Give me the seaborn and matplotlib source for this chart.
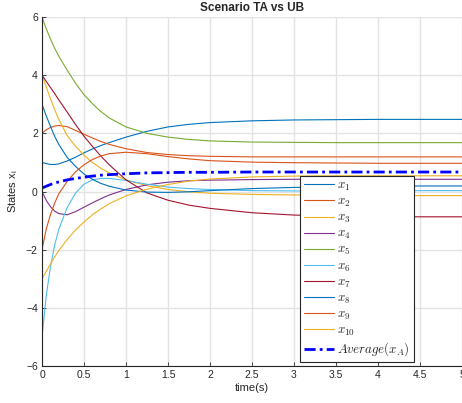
import numpy as np
import pandas as pd
import seaborn as sns
import matplotlib
matplotlib.use("Agg")
import matplotlib.pyplot as plt

# sample times (s) and states
t = [0, 0.05, 0.1, 0.15, 0.2, 0.3, 0.4, 0.5, 0.6, 0.7, 0.8, 1.0,
     1.25, 1.5, 1.75, 2.0, 2.5, 3.0, 3.5, 4.0, 4.5, 5.0]

x1 = [1.0, 0.96, 0.93, 0.93, 0.95, 1.05, 1.18, 1.33, 1.46, 1.58, 1.68, 1.87,
      2.07, 2.22, 2.31, 2.37, 2.43, 2.46, 2.47, 2.48, 2.48, 2.48]
x2 = [2.0, 2.12, 2.2, 2.25, 2.27, 2.23, 2.1, 1.97, 1.84, 1.72, 1.62, 1.47,
      1.34, 1.27, 1.23, 1.21, 1.19, 1.19, 1.19, 1.19, 1.19, 1.19]
x3 = [4.0, 3.6, 3.2, 2.82, 2.48, 1.92, 1.55, 1.25, 1.0, 0.8, 0.64, 0.4,
      0.2, 0.07, -0.01, -0.06, -0.1, -0.12, -0.13, -0.14, -0.14, -0.14]
x4 = [0.0, -0.3, -0.52, -0.67, -0.76, -0.8, -0.69, -0.54, -0.39, -0.25, -0.12, 0.07,
      0.23, 0.32, 0.37, 0.39, 0.41, 0.42, 0.42, 0.42, 0.42, 0.42]
x5 = [6.0, 5.6, 5.25, 4.93, 4.65, 4.17, 3.72, 3.33, 3.02, 2.75, 2.53, 2.22,
      2.0, 1.87, 1.79, 1.74, 1.7, 1.69, 1.68, 1.68, 1.68, 1.68]
x6 = [-5.0, -3.6, -2.6, -1.85, -1.3, -0.55, -0.05, 0.25, 0.4, 0.45, 0.45, 0.38,
      0.25, 0.15, 0.1, 0.07, 0.03, 0.02, 0.02, 0.03, 0.03, 0.03]
x7 = [4.0, 3.79, 3.58, 3.37, 3.15, 2.73, 2.3, 1.9, 1.55, 1.22, 0.92, 0.4,
      -0.05, -0.3, -0.47, -0.58, -0.73, -0.81, -0.85, -0.86, -0.87, -0.87]
x8 = [3.0, 2.6, 2.25, 1.9, 1.62, 1.17, 0.86, 0.6, 0.42, 0.28, 0.18, 0.05,
      -0.02, -0.03, -0.01, 0.03, 0.1, 0.14, 0.16, 0.18, 0.19, 0.19]
x9 = [-2.0, -1.3, -0.8, -0.4, -0.08, 0.35, 0.68, 0.92, 1.1, 1.22, 1.3, 1.35,
      1.3, 1.2, 1.12, 1.06, 1.01, 0.99, 0.98, 0.97, 0.97, 0.97]
x10 = [-3.0, -2.75, -2.5, -2.25, -2.03, -1.65, -1.32, -1.05, -0.8, -0.6, -0.42, -0.15,
       0.08, 0.24, 0.36, 0.43, 0.5, 0.53, 0.54, 0.54, 0.54, 0.54]
avg = [0.12, 0.18, 0.24, 0.29, 0.33, 0.4, 0.45, 0.49, 0.53, 0.56, 0.58, 0.61,
       0.64, 0.65, 0.66, 0.66, 0.67, 0.67, 0.67, 0.67, 0.67, 0.67]

states = [x1, x2, x3, x4, x5, x6, x7, x8, x9, x10]
labels = [f'$x_{{{i}}}$' for i in range(1, 11)]
colors = ['#0072BD', '#D95319', '#EDB120', '#7E2F8E', '#77AC30',
          '#4DBEEE', '#A2142F', '#0072BD', '#D95319', '#EDB120']

sns.set_style('whitegrid')
plt.rcParams['font.family'] = ['Liberation Sans', 'DejaVu Sans']
plt.rcParams['mathtext.fontset'] = 'cm'

fig = plt.figure(figsize=(4.62, 4.03), dpi=100)
ax = fig.add_axes([42 / 462, 37 / 403, 420 / 462, 349 / 403])

for vals, lab, col in zip(states, labels, colors):
    df = pd.DataFrame({'t': t, 'x': vals})
    sns.lineplot(data=df, x='t', y='x', color=col, lw=0.8, label=lab, ax=ax)

df_avg = pd.DataFrame({'t': t, 'x': avg})
sns.lineplot(data=df_avg, x='t', y='x', color='blue', lw=2.0, ax=ax,
             label='$Average(x_{A})$', dashes=False)
ax.lines[-1].set_dashes([4, 1.5, 1, 1.5])

ax.set_xlim(0, 5)
ax.set_ylim(-6, 6)
ax.set_xticks(np.arange(0, 5.01, 0.5))
ax.set_xticklabels(['0', '0.5', '1', '1.5', '2', '2.5', '3', '3.5', '4', '4.5', '5'])
ax.set_yticks(np.arange(-6, 7, 2))
ax.grid(True, color='#e3e3e3', lw=1.0)
for s in ['top', 'right']:
    ax.spines[s].set_visible(False)
for s in ['left', 'bottom']:
    ax.spines[s].set_color('#262626')
    ax.spines[s].set_linewidth(0.8)
ax.tick_params(direction='in', length=3, width=0.6, colors='#262626',
               labelsize=7.5, left=True, bottom=True, pad=3)

ax.set_title('Scenario TA vs UB', fontsize=8.5, fontweight='bold', pad=4)
ax.set_xlabel('time(s)', fontsize=8, labelpad=2)
ax.set_ylabel('States x$_\\mathregular{i}$', fontsize=8, labelpad=4)

leg = ax.legend(loc='upper left', bbox_to_anchor=(300 / 462, 227 / 403),
                bbox_transform=fig.transFigure, fontsize=9.3, frameon=True,
                fancybox=False, framealpha=1, edgecolor='#262626',
                handlelength=2.3, labelspacing=0.22, borderpad=0.3,
                handletextpad=0.3, borderaxespad=0)
leg.get_frame().set_linewidth(0.8)

fig.savefig('out.png', dpi=100)
